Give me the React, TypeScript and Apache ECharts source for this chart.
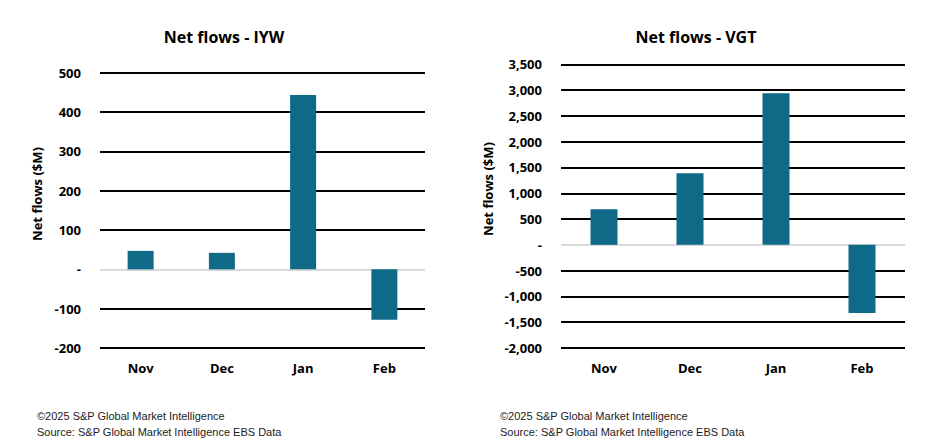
import React, { useEffect, useRef } from "react";
import * as echarts from "echarts";

const categories = ["Nov", "Dec", "Jan", "Feb"];
const iywValues = [47, 42, 443, -128];
const vgtValues = [690, 1390, 2940, -1320];
const iywTitle = "Net flows - IYW";
const vgtTitle = "Net flows - VGT";
const yAxisName = "Net flows ($M)";
const footerLines = ["©2025 S&P Global Market Intelligence", "Source: S&P Global Market Intelligence EBS Data"];

const BAR = "#0f6a87";
const FONT = "'Open Sans', 'Noto Sans', sans-serif";

const fmt = (v: number) => (v === 0 ? "-" : v.toLocaleString("en-US"));

export default function App() {
  const ref = useRef<HTMLDivElement>(null);
  useEffect(() => {
    document.body.style.margin = "0";
    const chart = echarts.init(ref.current!, undefined, { renderer: "svg" });
    const splitColors = (min: number, max: number, step: number) => {
      const arr: string[] = [];
      for (let v = min; v <= max + 1e-9; v += step) arr.push(v === 0 ? "#d9d9d9" : "#000000");
      return arr;
    };
    const yAxisCommon = (gridIndex: number, min: number, max: number, interval: number) => ({
      type: "value",
      gridIndex,
      min,
      max,
      interval,
      axisLine: { show: false },
      axisTick: { show: false },
      axisLabel: { formatter: fmt, fontFamily: FONT, fontWeight: "bold", fontSize: 13, color: "#000", margin: 19 },
      splitLine: { show: true, lineStyle: { color: splitColors(min, max, interval), width: 2 } },
    });
    const xAxisCommon = (gridIndex: number) => ({
      type: "category",
      gridIndex,
      data: categories,
      axisLine: { show: false },
      axisTick: { show: false },
      axisLabel: { fontFamily: FONT, fontWeight: "bold", fontSize: 13, color: "#000", margin: 13 },
    });
    const axisNameText = (x: number, y: number) => ({
      type: "text",
      x,
      y,
      rotation: Math.PI / 2,
      style: { text: yAxisName, fontFamily: FONT, fontWeight: "bold", fontSize: 13, fill: "#000", textAlign: "center", textVerticalAlign: "middle" },
    });
    chart.setOption({
      animation: false,
      backgroundColor: "#ffffff",
      grid: [
        { left: 100, right: 503, top: 72.7, bottom: 99 },
        { left: 561, right: 23, top: 64.3, bottom: 99 },
      ],
      xAxis: [xAxisCommon(0), xAxisCommon(1)],
      yAxis: [yAxisCommon(0, -200, 500, 100), yAxisCommon(1, -2000, 3500, 500)],
      series: [
        { type: "bar", xAxisIndex: 0, yAxisIndex: 0, data: iywValues, barWidth: 26, itemStyle: { color: BAR } },
        { type: "bar", xAxisIndex: 1, yAxisIndex: 1, data: vgtValues, barWidth: 27, itemStyle: { color: BAR } },
      ],
      graphic: [
        { type: "text", x: 224, y: 37, style: { text: iywTitle, fontFamily: FONT, fontWeight: "bold", fontSize: 16, fill: "#000", textAlign: "center", textVerticalAlign: "middle" } },
        { type: "text", x: 696, y: 37, style: { text: vgtTitle, fontFamily: FONT, fontWeight: "bold", fontSize: 16, fill: "#000", textAlign: "center", textVerticalAlign: "middle" } },
        axisNameText(37, 194),
        axisNameText(488, 189),
        ...[37, 500].flatMap((x) =>
          footerLines.map((t, i) => ({
            type: "text",
            x,
            y: 416 + i * 16,
            style: { text: t, fontFamily: "'Liberation Sans Narrow', 'Liberation Sans', sans-serif", fontSize: 11, fill: "#222", textAlign: "left", textVerticalAlign: "middle" },
          }))
        ),
      ],
    });
    return () => chart.dispose();
  }, []);
  return <div ref={ref} style={{ width: 928, height: 447 }} />;
}
